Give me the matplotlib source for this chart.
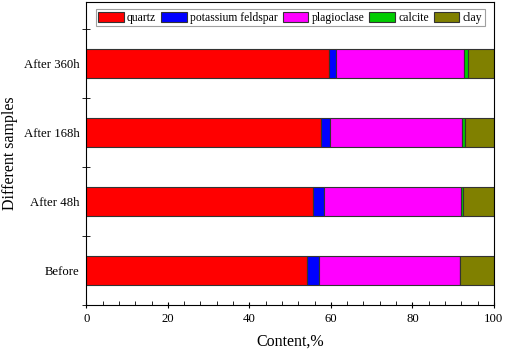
import matplotlib
matplotlib.use("Agg")
import matplotlib.pyplot as plt
import numpy as np

plt.rcParams['font.family'] = ['Liberation Serif', 'DejaVu Serif']

# samples bottom -> top
samples = ["Before", "After 48h", "After 168h", "After 360h"]
quartz = [54.2, 55.7, 57.6, 59.6]
k_feldspar = [2.9, 2.7, 2.1, 1.7]
plagioclase = [34.5, 33.6, 32.5, 31.3]
calcite = [0.0, 0.4, 0.6, 1.1]
clay = [8.4, 7.6, 7.2, 6.3]

minerals = ["quartz", "potassium feldspar", "plagioclase", "calcite", "clay"]
colors = ["#ff0000", "#0000ff", "#ff00ff", "#00cc00", "#808000"]

fig, ax = plt.subplots(figsize=(5.05, 3.55), dpi=100)
fig.subplots_adjust(left=0.171, right=0.978, top=0.994, bottom=0.141)

y = np.arange(len(samples))
left = np.zeros(len(samples))
for name, vals, c in zip(minerals, [quartz, k_feldspar, plagioclase, calcite, clay], colors):
    ax.barh(y, vals, left=left, height=0.41, color=c, edgecolor="#333333",
            linewidth=0.8, label=name)
    left += np.array(vals)

ax.set_xlim(0, 100)
ax.set_ylim(-0.5, 3.89)
ax.set_xticks(range(0, 101, 20))
ax.set_xticks(range(0, 101, 4), minor=True)
ax.set_yticks(y, labels=samples)
ax.set_yticks(np.arange(-0.5, 4, 1), minor=True)
ax.tick_params(axis='both', which='major', labelsize=9.2)
ax.tick_params(axis='x', which='major', direction='inout', length=5)
ax.tick_params(axis='x', which='minor', direction='in', length=3)
ax.tick_params(axis='y', which='major', length=0, pad=5)
ax.tick_params(axis='y', which='minor', direction='inout', length=6)

ax.set_xlabel("Content,%", fontsize=11.5, labelpad=6)
ax.set_ylabel("Different samples", fontsize=11.5, labelpad=4)

leg = ax.legend(loc='upper center', ncol=5, fontsize=8.4, frameon=True, fancybox=False,
                edgecolor="#888888", handlelength=2.2, handleheight=1.0,
                handletextpad=0.3, columnspacing=0.4, borderpad=0.2,
                bbox_to_anchor=(0.5, 0.995))
leg.get_frame().set_linewidth(0.8)

fig.savefig("out.png", dpi=100)
